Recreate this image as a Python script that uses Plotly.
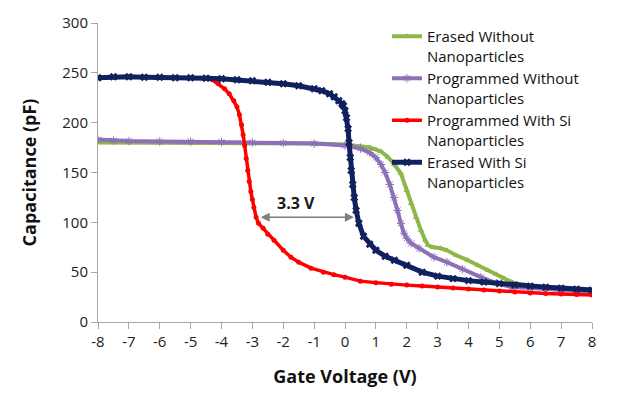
import plotly.graph_objects as go

# Erased Without Nanoparticles (green)
gw_x = [-8, -7, -6, -5, -4, -3, -2, -1, 0, 0.5, 0.8, 1.0, 1.17, 1.4, 1.6, 1.81, 2.0, 2.14, 2.3, 2.46, 2.6, 2.69, 2.85, 3.1, 3.3, 3.6, 3.98, 4.3, 4.63, 4.9, 5.15, 5.4, 5.8, 6.5, 7.0, 7.5, 8.0]
gw_y = [180, 180, 180, 180, 180, 179.5, 179.5, 179, 178, 176.5, 175, 173, 171, 165, 158, 149, 132, 119, 105, 92, 82, 77, 75, 74, 72, 67, 62, 57, 52, 48, 44, 40, 37, 35, 33.5, 32.5, 31]

# Programmed Without Nanoparticles (purple)
pw_x = [-8, -7.5, -7, -6, -5, -4, -3, -2, -1, 0, 0.5, 0.8, 1.0, 1.17, 1.3, 1.45, 1.59, 1.7, 1.81, 1.91, 2.0, 2.14, 2.4, 2.88, 3.3, 3.8, 4.4, 4.9, 5.4, 6.0, 7.0, 8.0]
pw_y = [183, 182, 181.5, 181, 181, 180.5, 180, 179.5, 179, 177, 174, 170, 165, 158, 150, 138, 125, 112, 99, 89, 84, 79, 74, 65, 60, 53, 45, 39, 35, 34, 32, 30]

# Programmed With Si Nanoparticles (red)
ps_x = [-4.3, -4.1, -3.9, -3.75, -3.6, -3.5, -3.42, -3.35, -3.3, -3.25, -3.2, -3.15, -3.1, -3.05, -3.0, -2.95, -2.88, -2.8, -2.65, -2.5, -2.3, -2.0, -1.75, -1.5, -1.1, -0.7, -0.36, 0, 0.5, 1.0, 1.5, 2.0, 2.5, 3.0, 3.5, 4.0, 4.5, 5.0, 5.5, 6.0, 6.5, 7.0, 7.5, 8.0]
ps_y = [243, 239, 234, 229, 222, 216, 208, 198, 188, 177, 164, 152, 141, 131, 123, 115, 105, 99, 94, 88, 82, 72, 65, 60, 54, 50, 47.5, 45, 41, 39.5, 38, 37, 36, 35, 34, 33, 32, 31, 30, 29, 28.5, 28, 27.5, 27]

# Erased With Si Nanoparticles (navy)
es_x = [-8, -7.5, -7, -6.5, -6, -5.5, -5, -4.5, -4, -3.5, -3, -2.5, -2, -1.5, -1, -0.75, -0.5, -0.35, -0.2, -0.1, -0.05, 0.0, 0.05, 0.1, 0.13, 0.17, 0.2, 0.25, 0.3, 0.36, 0.45, 0.6, 0.8, 1.0, 1.3, 1.6, 2.0, 2.5, 3.0, 3.5, 4.0, 4.5, 5.0, 5.5, 6.0, 6.5, 7.0, 7.5, 8.0]
es_y = [245, 246, 246, 245.5, 245.5, 245, 245, 244.5, 244, 243, 242, 240.5, 239, 237, 234, 232, 229, 226, 222, 219, 217, 212, 205, 194, 180, 165, 152, 138, 125, 112, 99, 86, 78, 72, 66, 62, 57, 50, 46, 43.5, 41.5, 40, 38.5, 37, 36, 35, 34, 33, 32]

x_ticks = list(range(-8, 9))
y_ticks = [0, 50, 100, 150, 200, 250, 300]

FONT = "Open Sans"

fig = go.Figure()
fig.add_trace(go.Scatter(
    x=gw_x, y=gw_y, mode="lines+markers", name="Erased Without<br>Nanoparticles",
    line=dict(color="#8DB849", width=4),
    marker=dict(symbol="triangle-up", size=6, color="#8DB849")))
fig.add_trace(go.Scatter(
    x=pw_x, y=pw_y, mode="lines+markers", name="Programmed Without<br>Nanoparticles",
    line=dict(color="#8C70B8", width=4),
    marker=dict(symbol="asterisk-open", size=7, color="#8C70B8", line=dict(color="#B39FD3", width=1))))
fig.add_trace(go.Scatter(
    x=ps_x, y=ps_y, mode="lines+markers", name="Programmed With Si<br>Nanoparticles",
    line=dict(color="#FF0000", width=3.5),
    marker=dict(symbol="circle", size=5, color="#FF0000")))
fig.add_trace(go.Scatter(
    x=es_x, y=es_y, mode="lines+markers", name="Erased With Si<br>Nanoparticles",
    line=dict(color="#10215E", width=5),
    marker=dict(symbol="x", size=7, color="#10215E")))

# double-headed arrow showing 3.3 V shift
fig.add_annotation(x=0.29, y=105, ax=-2.78, ay=105, xref="x", yref="y", axref="x", ayref="y",
                   text="", showarrow=True, arrowhead=2, startarrowhead=2, arrowside="end+start",
                   arrowsize=1.2, arrowwidth=1.5, arrowcolor="#7F7F7F")
fig.add_annotation(x=-1.59, y=119, xref="x", yref="y", text="<b>3.3 V</b>", showarrow=False,
                   font=dict(family=FONT, size=16, color="#1a1a1a"))

fig.update_layout(
    width=621, height=396,
    margin=dict(l=98, r=29, t=21, b=73),
    paper_bgcolor="white", plot_bgcolor="white",
    font=dict(family=FONT, size=15, color="#222222"),
    showlegend=True,
    legend=dict(x=0.585, y=1.01, xanchor="left", yanchor="top", bgcolor="rgba(0,0,0,0)",
                font=dict(family=FONT, size=15, color="#111111"), valign="top",
                itemwidth=30, tracegroupgap=0),
    xaxis=dict(range=[-8, 8], tickvals=x_ticks, ticktext=[str(v) for v in x_ticks],
               showgrid=False, zeroline=False, showline=True, linecolor="#A6A6A6", linewidth=1,
               ticks="outside", ticklen=6, tickcolor="#A6A6A6",
               title=dict(text="<b>Gate Voltage (V)</b>", font=dict(family=FONT, size=18, color="#111111"), standoff=20),
               tickfont=dict(family=FONT, size=15, color="#222222")),
    yaxis=dict(range=[0, 300], tickvals=y_ticks, showgrid=False, zeroline=False,
               showline=True, linecolor="#A6A6A6", linewidth=1,
               ticks="outside", ticklen=6, tickcolor="#A6A6A6",
               title=dict(text="<b>Capacitance (pF)</b>", font=dict(family=FONT, size=18, color="#111111"), standoff=20),
               tickfont=dict(family=FONT, size=15, color="#222222")),
)

fig.write_html("out.html")
